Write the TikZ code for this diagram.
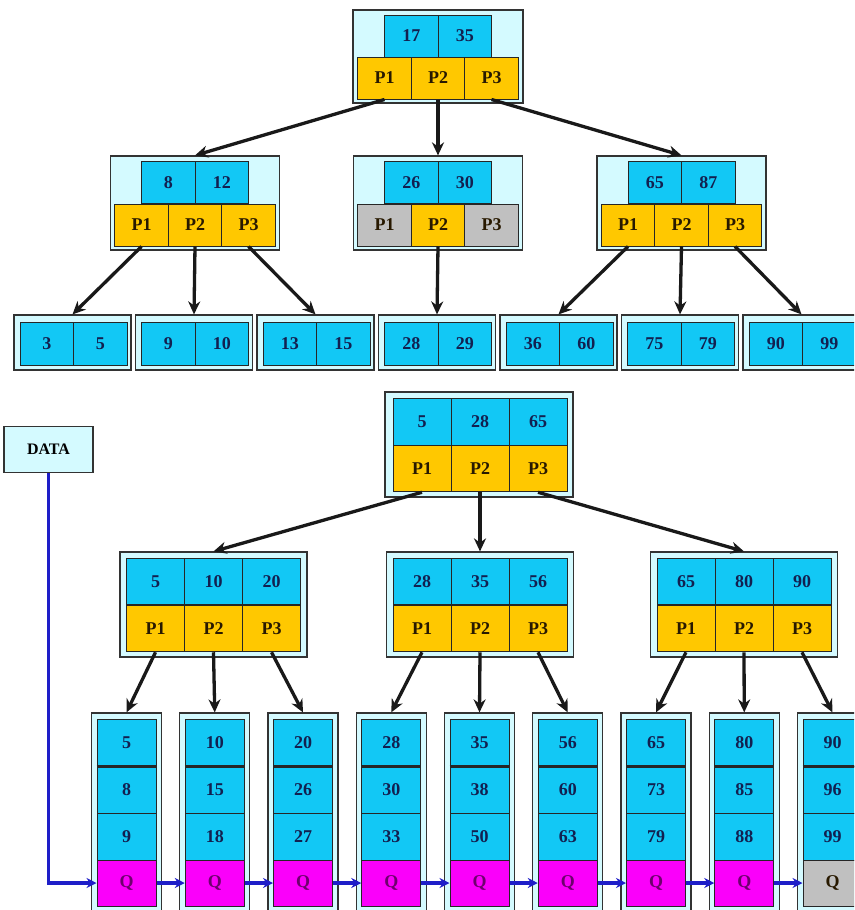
\documentclass[tikz,border=0pt]{standalone}
\usepackage{fontspec}
\setmainfont{Liberation Serif}
\usepackage{tikz}
\usetikzlibrary{arrows.meta}

\definecolor{boxbg}{RGB}{212,250,255}
\definecolor{keycyan}{RGB}{18,200,245}
\definecolor{keytext}{RGB}{18,32,80}
\definecolor{ptryellow}{RGB}{255,200,0}
\definecolor{ptrtext}{RGB}{40,25,0}
\definecolor{nullgrey}{RGB}{192,192,192}
\definecolor{qmag}{RGB}{250,0,250}
\definecolor{qtext}{RGB}{110,0,110}
\definecolor{chainblue}{RGB}{30,30,200}

\begin{document}
\begin{tikzpicture}[x=1pt,y=-1pt,
  outer/.style={draw=black!80, fill=boxbg, line width=1.2pt, inner sep=0pt},
  cell/.style={draw=black!85, line width=1pt, inner sep=0pt,
    font=\bfseries\fontsize{18}{20}\selectfont},
  tkey/.style={cell, fill=keycyan, text=keytext, minimum width=53.5, minimum height=42},
  tptr/.style={cell, fill=ptryellow, text=ptrtext, minimum width=53.5, minimum height=42},
  tnull/.style={cell, fill=nullgrey, text=ptrtext, minimum width=53.5, minimum height=42},
  bkey/.style={cell, fill=keycyan, text=keytext, minimum width=58, minimum height=46.5},
  bptr/.style={cell, fill=ptryellow, text=ptrtext, minimum width=58, minimum height=46.5},
  lkey/.style={cell, fill=keycyan, text=keytext, minimum width=59, minimum height=47},
  qcell/.style={cell, fill=qmag, text=qtext, minimum width=59, minimum height=46},
  qnull/.style={cell, fill=nullgrey, text=ptrtext, minimum width=59, minimum height=46},
  link/.style={-{Stealth[length=13pt,width=12pt]}, line width=3.3pt, black!90},
  qlink/.style={-{Stealth[length=10pt,width=10pt]}, line width=3.3pt, chainblue}]
\useasboundingbox (0,0) rectangle (854,910);
\clip (0,0) rectangle (854,910);

% ---- upper tree: root
\node[outer, minimum width=170, minimum height=93] (r) at (438,56.5) {};
\node[tkey] (r-k1) at (411.25,36) {17};
\node[tkey] (r-k2) at (464.75,36) {35};
\node[tptr] (r-p1) at (384.5,78) {P1};
\node[tptr] (r-p2) at (438,78) {P2};
\node[tptr] (r-p3) at (491.5,78) {P3};

% ---- upper tree: inner level
\foreach \n/\cx/\ka/\kb/\sa/\sc in {ta/195/8/12/tptr/tptr, tb/438/26/30/tnull/tnull,
                                   tc/681.5/65/87/tptr/tptr}{
  \node[outer, minimum width=169, minimum height=94] (\n) at (\cx,203) {};
  \node[tkey] (\n-k1) at (\cx-26.75,182.5) {\ka};
  \node[tkey] (\n-k2) at (\cx+26.75,182.5) {\kb};
  \node[\sa] (\n-p1) at (\cx-53.5,225) {P1};
  \node[tptr] (\n-p2) at (\cx,225) {P2};
  \node[\sc] (\n-p3) at (\cx+53.5,225) {P3};
}

% ---- upper tree: leaves
\foreach \a/\b [count=\i from 0] in {3/5, 9/10, 13/15, 28/29, 36/60, 75/79, 90/99}{
  \node[outer, minimum width=117, minimum height=55] (tl\i) at (72.5+121.5*\i,342.5) {};
  \node[tkey, minimum height=43] (tl\i-a) at (46.75+121.5*\i,343.5) {\a};
  \node[tkey, minimum height=43] (tl\i-b) at (100.25+121.5*\i,343.5) {\b};
}

\foreach \s/\t in {r-p1/ta, r-p2/tb, r-p3/tc, ta-p1/tl0, ta-p2/tl1, ta-p3/tl2,
                   tb-p2/tl3, tc-p1/tl4, tc-p2/tl5, tc-p3/tl6}
  \draw[link] (\s.south) -- (\t.north);

% ---- lower tree: root
\node[outer, minimum width=188, minimum height=105] (br) at (479,444.5) {};
\node[bkey] (br-k1) at (422,422) {5};
\node[bkey] (br-k2) at (480,422) {28};
\node[bkey] (br-k3) at (538,422) {65};
\node[bptr] (br-p1) at (422,468.5) {P1};
\node[bptr] (br-p2) at (480,468.5) {P2};
\node[bptr] (br-p3) at (538,468.5) {P3};

% ---- lower tree: inner level
\foreach \n/\cx/\ka/\kb/\kc in {ba/213.5/5/10/20, bb/480/28/35/56, bc/744/65/80/90}{
  \node[outer, minimum width=187, minimum height=105] (\n) at (\cx,604.5) {};
  \node[bkey] (\n-k1) at (\cx-58,581.5) {\ka};
  \node[bkey] (\n-k2) at (\cx,581.5) {\kb};
  \node[bkey] (\n-k3) at (\cx+58,581.5) {\kc};
  \node[bptr] (\n-p1) at (\cx-58,628.5) {P1};
  \node[bptr] (\n-p2) at (\cx,628.5) {P2};
  \node[bptr] (\n-p3) at (\cx+58,628.5) {P3};
}

% ---- lower tree: leaves with data pointers
\foreach \a/\b/\c/\qs [count=\i from 0] in {5/8/9/qcell, 10/15/18/qcell, 20/26/27/qcell,
    28/30/33/qcell, 35/38/50/qcell, 56/60/63/qcell, 65/73/79/qcell, 80/85/88/qcell,
    90/96/99/qnull}{
  \node[outer, minimum width=70, minimum height=198] (bl\i) at (126.5+88.25*\i,812) {};
  \node[lkey] (bl\i-a) at (126.5+88.25*\i,742.5) {\a};
  \node[lkey] (bl\i-b) at (126.5+88.25*\i,789.5) {\b};
  \node[lkey] (bl\i-c) at (126.5+88.25*\i,836.5) {\c};
  \node[\qs] (q\i) at (126.5+88.25*\i,883) {Q};
  \draw[line width=2.2pt, black!85] (bl\i-a.south west) -- (bl\i-a.south east);
}

\foreach \s/\t in {br-p1/ba, br-p2/bb, br-p3/bc, ba-p1/bl0, ba-p2/bl1, ba-p3/bl2,
                   bb-p1/bl3, bb-p2/bl4, bb-p3/bl5, bc-p1/bl6, bc-p2/bl7, bc-p3/bl8}
  \draw[link] (\s.south) -- (\t.north);

% ---- data chain
\node[outer, minimum width=89, minimum height=46, font=\bfseries\fontsize{16}{18}\selectfont]
  (data) at (48.5,449.5) {DATA};
\draw[qlink] (data.south) |- (q0.west);
\foreach \i in {0,...,7}{
  \pgfmathtruncatemacro{\j}{\i+1}
  \draw[qlink] (q\i.east) -- (q\j.west);
}
\end{tikzpicture}
\end{document}
